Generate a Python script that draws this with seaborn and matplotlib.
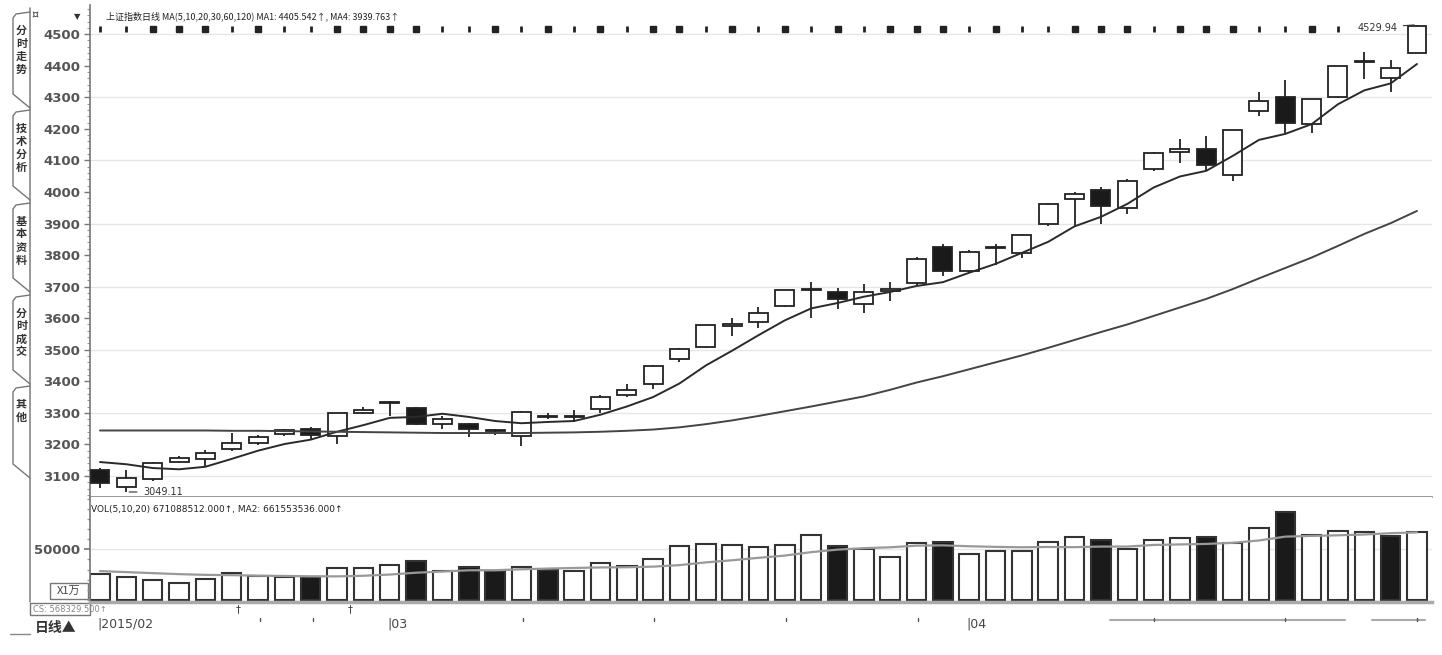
import numpy as np
import pandas as pd
import matplotlib
matplotlib.use("Agg")
import matplotlib.pyplot as plt
import seaborn as sns
from matplotlib.transforms import blended_transform_factory

# ---------------- data ----------------
opens = [3120, 3064, 3090, 3145, 3155, 3185, 3205, 3232, 3250, 3225,
         3298, 3330, 3315, 3265, 3265, 3246, 3225, 3290, 3288, 3312,
         3358, 3390, 3470, 3510, 3575, 3587, 3640, 3690, 3684, 3645,
         3685, 3710, 3825, 3750, 3822, 3805, 3900, 3978, 4005, 3950,
         4072, 4127, 4135, 4055, 4255, 4302, 4215, 4300, 4412, 4360, 4441]
highs = [3125, 3119, 3143, 3163, 3182, 3236, 3230, 3250, 3256, 3300,
         3320, 3336, 3318, 3290, 3267, 3250, 3307, 3300, 3310, 3358,
         3390, 3452, 3506, 3578, 3600, 3636, 3690, 3715, 3695, 3708,
         3716, 3795, 3835, 3815, 3835, 3866, 3966, 4000, 4016, 4040,
         4128, 4168, 4178, 4197, 4318, 4356, 4296, 4400, 4444, 4418, 4529.94]
lows = [3062, 3049.11, 3085, 3140, 3130, 3180, 3198, 3225, 3215, 3200,
        3295, 3291, 3260, 3250, 3222, 3230, 3195, 3280, 3271, 3300,
        3350, 3377, 3460, 3505, 3545, 3569, 3635, 3600, 3630, 3615,
        3655, 3705, 3735, 3742, 3770, 3790, 3893, 3890, 3900, 3930,
        4065, 4093, 4066, 4035, 4242, 4187, 4188, 4298, 4358, 4316, 4440]
closes = [3076, 3095, 3142, 3158, 3173, 3204, 3222, 3247, 3229, 3298,
          3310, 3335, 3263, 3280, 3248, 3241, 3302, 3286, 3291, 3349,
          3373, 3449, 3503, 3577, 3582, 3617, 3688, 3691, 3661, 3682,
          3691, 3787, 3748, 3810, 3826, 3864, 3961, 3995, 3957, 4034,
          4122, 4135, 4084, 4195, 4287, 4217, 4294, 4398, 4415, 4394, 4527]
ma5 = [3144, 3137, 3125, 3121, 3129, 3154, 3180, 3201, 3215, 3240,
       3261, 3284, 3287, 3297, 3287, 3274, 3267, 3271, 3274, 3294,
       3320, 3350, 3393, 3450, 3497, 3546, 3593, 3631, 3648, 3668,
       3683, 3702, 3714, 3744, 3772, 3807, 3842, 3891, 3921, 3962,
       4014, 4049, 4067, 4114, 4165, 4184, 4215, 4278, 4322, 4344, 4405.5]
ma30 = [3244, 3244, 3244, 3244, 3244, 3243, 3243, 3242, 3241, 3240,
        3239, 3238, 3237, 3236, 3236, 3236, 3236, 3237, 3238, 3240,
        3243, 3247, 3254, 3264, 3276, 3290, 3305, 3320, 3336, 3352,
        3373, 3396, 3416, 3438, 3460, 3482, 3506, 3531, 3556, 3580,
        3607, 3634, 3661, 3692, 3726, 3759, 3792, 3829, 3867, 3901, 3939.8]
volume = [25.6, 22.7, 19.7, 17.1, 20.7, 26.9, 23.7, 23.0, 22.4, 31.3,
          31.3, 34.5, 38.5, 28.6, 32.5, 28.6, 32.5, 29.6, 28.6, 36.5,
          33.5, 40.4, 53.3, 55.2, 54.2, 52.3, 54.2, 64.1, 53.3, 50.3,
          42.4, 56.2, 57.2, 45.4, 48.3, 48.3, 57.2, 62.1, 59.2, 50.3,
          59.2, 61.1, 62.1, 56.2, 71.0, 86.8, 64.1, 68.0, 67.1, 63.1, 67.1]  # thousand x 万
vol_down = [0, 0, 0, 0, 0, 0, 0, 0, 1, 0, 0, 0, 1, 0, 1, 1, 0, 1, 0, 0,
            0, 0, 0, 0, 0, 0, 0, 0, 1, 0, 0, 0, 1, 0, 0, 0, 0, 0, 1, 0,
            0, 0, 1, 0, 0, 1, 0, 0, 0, 1, 0]
vol_ma10 = [28.5, 27.5, 26.5, 25.5, 24.8, 24.5, 24.0, 23.7, 23.4, 23.3,
            23.9, 25.1, 26.9, 28.1, 29.3, 29.4, 30.3, 31.0, 31.6, 32.1,
            32.3, 32.9, 34.4, 37.1, 39.2, 41.6, 43.8, 47.2, 49.7, 51.1,
            52.0, 53.6, 53.9, 53.0, 52.4, 52.0, 52.3, 52.1, 52.7, 52.7,
            54.3, 54.8, 55.3, 56.4, 58.7, 62.5, 63.2, 63.8, 64.6, 65.9, 66.7]
top_marks = "nnsssnsnnssssnnsnsnsnssnsnsnsnsssnsnnsssnsssnnsn"
price_ticks = list(range(3100, 4501, 100))
grid_levels = list(range(3100, 4501, 200))
month_labels = ["2015/02", "03", "04"]
month_start = [0, 11, 33]
side_tabs = ["分时走势", "技术分析", "基本资料", "分时成交", "其他"]
title_text = "上证指数日线 MA(5,10,20,30,60,120) MA1: 4405.542↑, MA4: 3939.763↑"
vol_text = "VOL(5,10,20) 671088512.000↑, MA2: 661553536.000↑"

# ---------------- figure ----------------
sns.set_theme(style="white")
plt.rcParams['font.family'] = ['Noto Sans CJK SC', 'DejaVu Sans']
W, H = 1442, 655
fig = plt.figure(figsize=(W / 100, H / 100), dpi=100)
fig.patch.set_facecolor("white")


def rect(x0, y0, x1, y1):
    return [x0 / W, 1 - y1 / H, (x1 - x0) / W, (y1 - y0) / H]


ax = fig.add_axes(rect(90, 5, 1432, 497))
axv = fig.add_axes(rect(90, 497, 1432, 602))
n = len(closes)
x = np.arange(n)
df = pd.DataFrame({"x": x, "open": opens, "high": highs, "low": lows,
                   "close": closes, "ma5": ma5, "ma30": ma30,
                   "vol": np.array(volume) * 1000, "vma": np.array(vol_ma10) * 1000,
                   "down": vol_down})

# price panel
xlim = (-0.38, 50.57)
ax.set_xlim(*xlim)
ax.set_ylim(3033.2, 4592.5)
for g in grid_levels:
    ax.axhline(g, color="#e6e6e6", lw=1.0, zorder=0)
ax.vlines(df.x, df.low, df.high, color="#222222", lw=1.3, zorder=2)
up = df.close >= df.open
body_b = np.minimum(df.open, df.close)
body_h = np.maximum(np.abs(df.close - df.open), 2.0)
ax.bar(df.x, body_h, bottom=body_b, width=0.72,
       color=np.where(up, "white", "#1a1a1a"), edgecolor="#222222",
       linewidth=1.3, zorder=3)
sns.lineplot(data=df, x="x", y="ma5", ax=ax, color="#2a2a2a", lw=1.4, zorder=4)
sns.lineplot(data=df, x="x", y="ma30", ax=ax, color="#444444", lw=1.4, zorder=4)

ax.set_yticks(price_ticks)
ax.set_yticklabels([str(t) for t in price_ticks], fontsize=9.5, color="#555555",
                   fontweight="bold", family="DejaVu Sans")
ax.set_yticks(np.arange(3040, 4590, 20), minor=True)
ax.tick_params(axis="y", which="major", length=4, width=1, color="#777777", pad=3, left=True)
ax.tick_params(axis="y", which="minor", length=2, width=0.8, color="#999999", left=True)
ax.set_xticks([])
ax.set_xlabel("")
ax.set_ylabel("")
for s in ["top", "right"]:
    ax.spines[s].set_visible(False)
ax.spines["left"].set_color("#777777")
ax.spines["left"].set_linewidth(1.2)
ax.spines["bottom"].set_color("#888888")
ax.spines["bottom"].set_linewidth(1.2)

# annotations on price panel
ax.annotate("3049.11", xy=(1, lows[1]), xytext=(12, 0), textcoords="offset points",
            fontsize=7, color="#333333", family="DejaVu Sans", va="center",
            arrowprops=dict(arrowstyle="-", color="#333333", lw=0.8), zorder=6)
ax.annotate("4529.94", xy=(n - 1, highs[-1]), xytext=(-43, -2), textcoords="offset points",
            fontsize=7, color="#333333", family="DejaVu Sans", va="center", ha="left",
            arrowprops=dict(arrowstyle="-", color="#333333", lw=0.8), zorder=6)
ax.text(0.012, 0.976, title_text, transform=ax.transAxes, fontsize=6.5,
        color="#222222", va="center", ha="left")
trans = blended_transform_factory(ax.transData, ax.transAxes)
for i, k in enumerate(top_marks[: n - 3]):
    if k == "s":
        ax.plot(i, 0.952, marker="s", ms=3.8, color="#222222", transform=trans, clip_on=False)
    else:
        ax.plot(i, 0.952, marker="|", ms=5, mew=2, color="#222222", transform=trans, clip_on=False)

# volume panel
axv.set_xlim(*xlim)
axv.set_ylim(-1972, 101578)
axv.axhline(50000, color="#e6e6e6", lw=1.0, zorder=0)
axv.bar(df.x, df.vol, width=0.74,
        color=np.where(df.down == 1, "#1a1a1a", "white"),
        edgecolor="#333333", linewidth=1.5, zorder=2)
sns.lineplot(data=df, x="x", y="vma", ax=axv, color="#999999", lw=1.6, zorder=3)
axv.set_yticks([50000])
axv.set_yticklabels(["50000"], fontsize=9.5, color="#555555", fontweight="bold",
                    family="DejaVu Sans")
axv.set_yticks(np.arange(0, 100001, 10000), minor=True)
axv.tick_params(axis="y", which="major", length=4, color="#777777", left=True, pad=3)
axv.tick_params(axis="y", which="minor", length=2, color="#999999", left=True)
axv.set_xticks([])
axv.set_xlabel("")
axv.set_ylabel("")
for s in ["top", "right"]:
    axv.spines[s].set_visible(False)
axv.spines["left"].set_color("#777777")
axv.spines["left"].set_linewidth(1.2)
axv.spines["bottom"].set_color("#aaaaaa")
axv.spines["bottom"].set_linewidth(2.5)
axv.text(0.001, 0.88, vol_text, transform=axv.transAxes, fontsize=6.5,
         color="#222222", va="center", ha="left", family="DejaVu Sans")

# date labels under the volume panel
tv = blended_transform_factory(axv.transData, fig.transFigure)
for lab, idx in zip(month_labels, month_start):
    fig.text(0, 0, "|" + lab, transform=tv, fontsize=9, color="#444444",
             family="DejaVu Sans").set_position((idx - 0.1, 1 - 628 / H))

# decorations: side tabs, frame marks (figure pixel space)
deco = fig.add_axes([0, 0, 1, 1], zorder=-5)
deco.set_xlim(0, W)
deco.set_ylim(H, 0)
deco.axis("off")
deco.plot([30, 30], [8, 602], color="#888888", lw=1.2)
tab_y = [(12, 108), (110, 200), (203, 292), (295, 384), (386, 478)]
for (y0, y1), lab in zip(tab_y, side_tabs):
    deco.plot([30, 16, 13, 13, 30], [y0, y0 + 2, y0 + 6, y1 - 14, y1], color="#777777", lw=1.0)
    for k, ch in enumerate(lab):
        deco.text(21.5, y0 + 18 + k * 13, ch, fontsize=8, color="#333333",
                  ha="center", va="center", fontweight="bold")
deco.text(35, 15, "¤", fontsize=8, color="#333333", ha="center", va="center", family="DejaVu Sans")
deco.text(95, 15, "¤", fontsize=8, color="#333333", ha="center", va="center", family="DejaVu Sans")
deco.text(77, 17, "▼", fontsize=6, color="#333333", ha="center", va="center", family="DejaVu Sans")
deco.add_patch(plt.Rectangle((50, 583), 38, 16, fill=False, ec="#777777", lw=1))
deco.text(69, 591, "X1万", fontsize=8, color="#444444", ha="center", va="center")
deco.add_patch(plt.Rectangle((30, 603), 60, 12, fill=False, ec="#777777", lw=1))
deco.text(33, 610, "CS: 568329.500↑", fontsize=6, color="#888888", ha="left", va="center",
          family="DejaVu Sans")
deco.text(35, 628, "日线▲", fontsize=10, color="#333333", ha="left", va="center",
          fontweight="bold")
deco.plot([10, 30], [634, 634], color="#888888", lw=1)
deco.plot([1110, 1345], [620, 620], color="#aaaaaa", lw=1.5)
deco.plot([1372, 1425], [620, 620], color="#aaaaaa", lw=1.5)
for px in [238, 350]:
    deco.text(px, 609, "†", fontsize=7, color="#333333", ha="center", va="center",
              family="DejaVu Sans")
for px in [260, 313, 523, 654, 786, 918, 1154, 1285, 1417]:
    deco.plot([px, px], [618, 621], color="#555555", lw=1)

fig.savefig("out.png", dpi=100, facecolor="white")
